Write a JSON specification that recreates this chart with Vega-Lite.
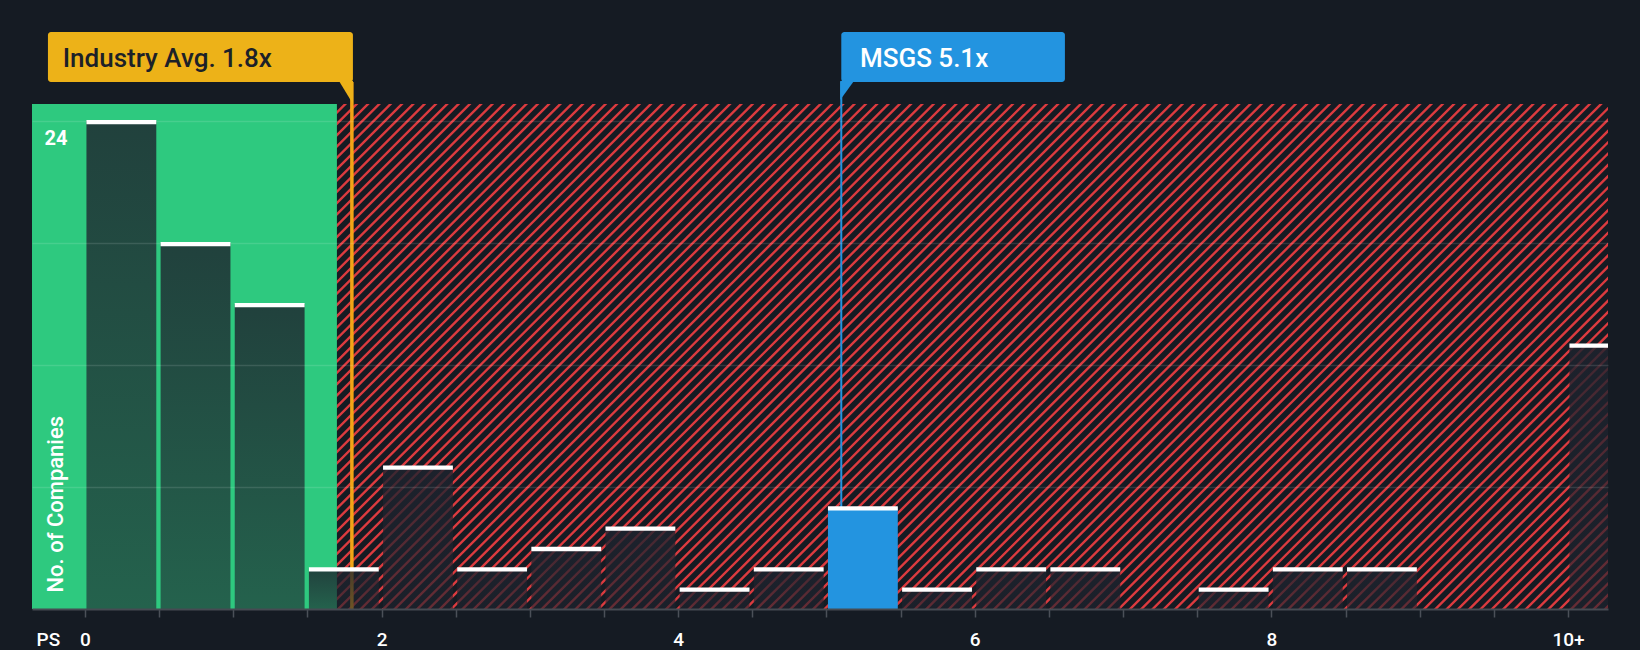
{
  "$schema": "https://vega.github.io/schema/vega-lite/v6.json",
  "width": 1576,
  "height": 505,
  "autosize": {"type": "none"},
  "padding": {"left": 32, "top": 104, "right": 32, "bottom": 41},
  "background": "#151b23",
  "config": {"font": "Roboto", "view": {"stroke": null}},
  "resolve": {"axis": {"x": "independent", "y": "independent"}},
  "datasets": {
    "bins": [
      {"lo": 0, "hi": 0.5, "count": 24, "highlight": false},
      {"lo": 0.5, "hi": 1, "count": 18, "highlight": false},
      {"lo": 1, "hi": 1.5, "count": 15, "highlight": false},
      {"lo": 1.5, "hi": 2, "count": 2, "highlight": false},
      {"lo": 2, "hi": 2.5, "count": 7, "highlight": false},
      {"lo": 2.5, "hi": 3, "count": 2, "highlight": false},
      {"lo": 3, "hi": 3.5, "count": 3, "highlight": false},
      {"lo": 3.5, "hi": 4, "count": 4, "highlight": false},
      {"lo": 4, "hi": 4.5, "count": 1, "highlight": false},
      {"lo": 4.5, "hi": 5, "count": 2, "highlight": false},
      {"lo": 5, "hi": 5.5, "count": 5, "highlight": true},
      {"lo": 5.5, "hi": 6, "count": 1, "highlight": false},
      {"lo": 6, "hi": 6.5, "count": 2, "highlight": false},
      {"lo": 6.5, "hi": 7, "count": 2, "highlight": false},
      {"lo": 7.5, "hi": 8, "count": 1, "highlight": false},
      {"lo": 8, "hi": 8.5, "count": 2, "highlight": false},
      {"lo": 8.5, "hi": 9, "count": 2, "highlight": false},
      {"lo": 10, "hi": 10.5, "count": 13, "highlight": false}
    ],
    "marks": [
      {"label": "Industry Avg. 1.8x", "value": 1.8, "kind": "industry"},
      {"label": "MSGS 5.1x", "value": 5.1, "kind": "company"}
    ]
  },
  "layer": [
    {
      "data": {"values": [{}]},
      "mark": {"type": "rule", "clip": true, "color": "#dc3b3f", "strokeWidth": 1600, "strokeDash": [2.4, 5.6], "strokeCap": "butt"},
      "encoding": {
        "x": {"datum": -0.438, "type": "quantitative", "scale": {"domain": [-0.357, 10.27], "nice": false, "zero": false}, "axis": null},
        "y": {"datum": 51.77, "type": "quantitative", "scale": {"domain": [0, 24.84], "nice": false, "zero": false}, "axis": null},
        "x2": {"datum": 10.351},
        "y2": {"datum": -26.92}
      }
    },
    {
      "data": {"values": [{}]},
      "mark": {"type": "rect", "color": "#2ec97f"},
      "encoding": {
        "x": {"datum": -0.357, "type": "quantitative", "scale": {"domain": [-0.357, 10.27], "nice": false, "zero": false}, "axis": null},
        "x2": {"datum": 1.699},
        "y": {"datum": 0, "type": "quantitative", "scale": {"domain": [0, 24.84], "nice": false, "zero": false}, "axis": null},
        "y2": {"datum": 24.84}
      }
    },
    {
      "data": {"name": "marks"},
      "transform": [{"filter": "datum.kind == 'industry'"}],
      "mark": {"type": "rule", "color": "#f2a516", "strokeWidth": 3.5},
      "encoding": {
        "x": {"field": "value", "type": "quantitative", "scale": {"domain": [-0.357, 10.27], "nice": false, "zero": false}, "axis": null},
        "y": {"datum": 0, "type": "quantitative", "scale": {"domain": [0, 24.84], "nice": false, "zero": false}, "axis": null},
        "y2": {"datum": 25.92}
      }
    },
    {
      "data": {"name": "marks"},
      "transform": [{"filter": "datum.kind == 'company'"}],
      "mark": {"type": "rule", "color": "#2394e0", "strokeWidth": 2},
      "encoding": {
        "x": {"field": "value", "type": "quantitative", "scale": {"domain": [-0.357, 10.27], "nice": false, "zero": false}, "axis": null},
        "y": {"datum": 0, "type": "quantitative", "scale": {"domain": [0, 24.84], "nice": false, "zero": false}, "axis": null},
        "y2": {"datum": 25.92}
      }
    },
    {
      "data": {"name": "bins"},
      "transform": [{"filter": "!datum.highlight"}],
      "mark": {
        "type": "rect", "clip": true, "xOffset": 1.5, "x2Offset": -2.8,
        "fill": {"gradient": "linear", "x1": 0, "y1": 0, "x2": 0, "y2": 1, "stops": [
          {"offset": 0, "color": "rgba(30,35,46,0.82)"},
          {"offset": 1, "color": "rgba(30,35,46,0.62)"}
        ]}
      },
      "encoding": {
        "x": {
          "field": "lo", "type": "quantitative",
          "scale": {"domain": [-0.357, 10.27], "nice": false, "zero": false},
          "axis": {
            "values": [0, 0.5, 1, 1.5, 2, 2.5, 3, 3.5, 4, 4.5, 5, 5.5, 6, 6.5, 7, 7.5, 8, 8.5, 9, 9.5, 10],
            "labelExpr": "datum.value == 10 ? '10+' : (datum.value % 2 == 0 ? '' + datum.value : '')",
            "title": "PS", "titleX": 4, "titleY": 36, "titleAlign": "left", "titleBaseline": "alphabetic",
            "titleFontSize": 19, "titleFont": "Roboto", "titleFontWeight": 500, "titleColor": "#ffffff",
            "labelFontSize": 19, "labelFont": "Roboto", "labelFontWeight": 500, "labelColor": "#ffffff",
            "labelBaseline": "alphabetic", "labelPadding": 28, "labelFlush": false, "labelOverlap": false,
            "tickSize": 8, "tickColor": "#4b5058", "tickWidth": 1.5,
            "domainColor": "#464b53", "domainWidth": 2, "grid": false, "zindex": 1
          }
        },
        "x2": {"field": "hi"},
        "y": {
          "field": "count", "type": "quantitative",
          "scale": {"domain": [0, 24.84], "nice": false, "zero": false},
          "axis": {
            "values": [6, 12, 18, 24],
            "labelExpr": "datum.value == 24 ? '24' : ''",
            "title": "No. of Companies", "titleX": 23, "titleY": 488, "titleAngle": 270, "titleAlign": "left", "titleBaseline": "middle",
            "titleFontSize": 22, "titleFont": "Roboto", "titleFontWeight": 500, "titleColor": "#ffffff",
            "domain": false, "ticks": false, "tickSize": 0,
            "labelAlign": "left", "labelBaseline": "middle", "labelPadding": -12, "labelOffset": 17,
            "labelFontSize": 20, "labelFont": "Roboto", "labelFontWeight": "bold", "labelColor": "#ffffff",
            "grid": true, "gridColor": "#ffffff", "gridOpacity": 0.12, "gridWidth": 1.5, "zindex": 1
          }
        },
        "y2": {"datum": 0}
      }
    },
    {
      "data": {"name": "bins"},
      "transform": [{"filter": "datum.highlight"}],
      "mark": {"type": "rect", "color": "#2394e0", "xOffset": 1.5, "x2Offset": -2.8},
      "encoding": {
        "x": {"field": "lo", "type": "quantitative", "scale": {"domain": [-0.357, 10.27], "nice": false, "zero": false}, "axis": null},
        "x2": {"field": "hi"},
        "y": {"field": "count", "type": "quantitative", "scale": {"domain": [0, 24.84], "nice": false, "zero": false}, "axis": null},
        "y2": {"datum": 0}
      }
    },
    {
      "data": {"name": "bins"},
      "mark": {"type": "rule", "clip": true, "color": "#ffffff", "strokeWidth": 4.3, "xOffset": 1.5, "x2Offset": -2.8, "yOffset": 1},
      "encoding": {
        "x": {"field": "lo", "type": "quantitative", "scale": {"domain": [-0.357, 10.27], "nice": false, "zero": false}, "axis": null},
        "x2": {"field": "hi"},
        "y": {"field": "count", "type": "quantitative", "scale": {"domain": [0, 24.84], "nice": false, "zero": false}, "axis": null}
      }
    },
    {
      "data": {"values": [{}]},
      "mark": {"type": "rect", "color": "#edb218", "cornerRadius": 3},
      "encoding": {
        "x": {"datum": -0.2495, "type": "quantitative", "scale": {"domain": [-0.357, 10.27], "nice": false, "zero": false}, "axis": null},
        "x2": {"datum": 1.807},
        "y": {"datum": 25.92, "type": "quantitative", "scale": {"domain": [0, 24.84], "nice": false, "zero": false}, "axis": null},
        "y2": {"datum": 28.38}
      }
    },
    {
      "data": {"values": [{}]},
      "mark": {"type": "rect", "color": "#2394e0", "cornerRadius": 3},
      "encoding": {
        "x": {"datum": 5.1, "type": "quantitative", "scale": {"domain": [-0.357, 10.27], "nice": false, "zero": false}, "axis": null},
        "x2": {"datum": 6.608},
        "y": {"datum": 25.92, "type": "quantitative", "scale": {"domain": [0, 24.84], "nice": false, "zero": false}, "axis": null},
        "y2": {"datum": 28.38}
      }
    },
    {
      "data": {"name": "marks"},
      "transform": [{"filter": "datum.kind == 'industry'"}],
      "mark": {"type": "point", "filled": true, "opacity": 1, "strokeWidth": 0, "size": 484, "color": "#edb218", "shape": "M -1.17 -1.1 L 0.1 -1.1 L 0.1 1 Z"},
      "encoding": {
        "x": {"field": "value", "type": "quantitative", "scale": {"domain": [-0.357, 10.27], "nice": false, "zero": false}, "axis": null},
        "y": {"datum": 25.38, "type": "quantitative", "scale": {"domain": [0, 24.84], "nice": false, "zero": false}, "axis": null}
      }
    },
    {
      "data": {"name": "marks"},
      "transform": [{"filter": "datum.kind == 'company'"}],
      "mark": {"type": "point", "filled": true, "opacity": 1, "strokeWidth": 0, "size": 484, "color": "#2394e0", "shape": "M -0.1 -1.1 L 1.15 -1.1 L -0.1 0.64 Z"},
      "encoding": {
        "x": {"field": "value", "type": "quantitative", "scale": {"domain": [-0.357, 10.27], "nice": false, "zero": false}, "axis": null},
        "y": {"datum": 25.38, "type": "quantitative", "scale": {"domain": [0, 24.84], "nice": false, "zero": false}, "axis": null}
      }
    },
    {
      "data": {"name": "marks"},
      "transform": [{"filter": "datum.kind == 'industry'"}],
      "mark": {"type": "text", "align": "left", "baseline": "alphabetic", "font": "Roboto", "fontSize": 26, "fontWeight": 500, "color": "#1c2128"},
      "encoding": {
        "x": {"datum": -0.15, "type": "quantitative", "scale": {"domain": [-0.357, 10.27], "nice": false, "zero": false}, "axis": null},
        "y": {"datum": 26.67, "type": "quantitative", "scale": {"domain": [0, 24.84], "nice": false, "zero": false}, "axis": null},
        "text": {"field": "label"}
      }
    },
    {
      "data": {"name": "marks"},
      "transform": [{"filter": "datum.kind == 'company'"}],
      "mark": {"type": "text", "align": "left", "baseline": "alphabetic", "font": "Roboto", "fontSize": 26, "fontWeight": 500, "color": "#ffffff"},
      "encoding": {
        "x": {"datum": 5.226, "type": "quantitative", "scale": {"domain": [-0.357, 10.27], "nice": false, "zero": false}, "axis": null},
        "y": {"datum": 26.67, "type": "quantitative", "scale": {"domain": [0, 24.84], "nice": false, "zero": false}, "axis": null},
        "text": {"field": "label"}
      }
    }
  ]
}
